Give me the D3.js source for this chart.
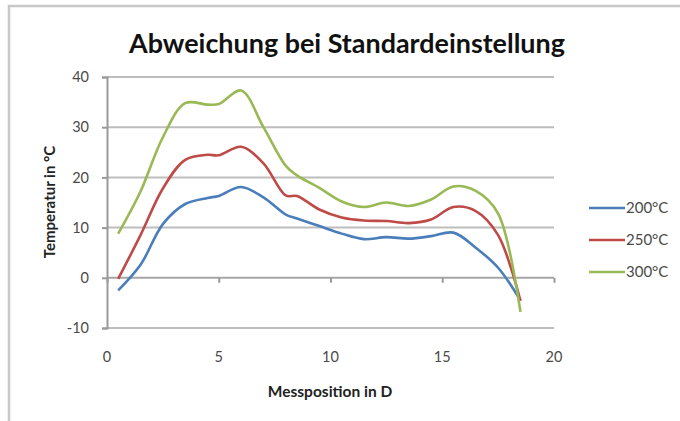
<!DOCTYPE html>
<html>
<head>
<meta charset="utf-8">
<script src="https://cdn.jsdelivr.net/npm/d3@7/dist/d3.min.js"></script>
<style>
  html, body { margin: 0; padding: 0; background: #fff; }
  svg { display: block; font-family: Lato, "Open Sans", sans-serif; }
</style>
</head>
<body>
<svg id="chart" width="680" height="421"></svg>
<script>
// Measurement positions (in diameters D) and temperature deviations per setting
const positions = [0.5, 1.5, 2.5, 3.5, 4.5, 5, 6, 7, 8, 8.5, 9.5, 10.5, 11.5, 12.5, 13.5, 14.5, 15.5, 16.5, 17.5, 18.5];
const t200 = [-2.5, 2.6, 10.7, 14.7, 15.9, 16.3, 18.1, 16.0, 12.6, 11.8, 10.3, 8.8, 7.7, 8.1, 7.8, 8.3, 9.0, 6.0, 2.0, -4.5];
const t250 = [-0.2, 8.5, 17.8, 23.5, 24.5, 24.4, 26.1, 22.8, 16.4, 16.3, 13.6, 12.0, 11.4, 11.3, 10.9, 11.6, 14.1, 13.3, 8.5, -4.6];
const t300 = [8.8, 17.2, 28.0, 34.8, 34.5, 34.6, 37.3, 30.0, 22.3, 20.4, 17.9, 15.2, 14.1, 15.0, 14.3, 15.6, 18.2, 17.3, 12.8, -6.8];

const seriesNames = ["200°C", "250°C", "300°C"];
const seriesColors = ["#4a7ebb", "#be4b48", "#98b954"];
const yTicks = [-10, 0, 10, 20, 30, 40];
const xTicks = [0, 5, 10, 15, 20];

const titleText = "Abweichung bei Standardeinstellung";
const xTitle = "Messposition in D";
const yTitle = "Temperatur in °C";

const svg = d3.select("#chart");

// Outer chart frame (top and left edges visible)
svg.append("path")
  .attr("d", "M9,421 L9,6 L680,6")
  .attr("fill", "none")
  .attr("stroke", "#c8c8c8")
  .attr("stroke-width", 2.5);

const plot = { left: 107, right: 554, top: 77, bottom: 328 };

const x = d3.scaleLinear().domain([0, 20]).range([plot.left, plot.right]);
const y = d3.scaleLinear().domain([-10, 40]).range([plot.bottom, plot.top]);

// Horizontal gridlines
svg.append("g")
  .selectAll("line")
  .data(yTicks)
  .join("line")
  .attr("x1", plot.left)
  .attr("x2", plot.right)
  .attr("y1", d => y(d))
  .attr("y2", d => y(d))
  .attr("stroke", d => d === 0 ? "#a6a6a6" : "#bdbdbd")
  .attr("stroke-width", 2);

// Vertical axis with outward ticks
const yAxis = svg.append("g")
  .attr("transform", `translate(${plot.left},0)`)
  .call(d3.axisLeft(y).tickValues(yTicks).tickSize(5).tickPadding(13).tickFormat(d => String(d)));
yAxis.select(".domain").attr("stroke", "#9a9a9a").attr("stroke-width", 2);
yAxis.selectAll(".tick line").attr("stroke", "#9a9a9a").attr("stroke-width", 2);
yAxis.selectAll("text")
  .attr("fill", "#4a4a4a")
  .attr("font-size", 14.5)
  .attr("font-family", "Lato, sans-serif");

// Horizontal axis crossing at zero, labels placed below the plot
const xAxis = svg.append("g")
  .attr("transform", `translate(0,${y(0)})`)
  .call(d3.axisBottom(x).tickValues(xTicks).tickSize(5).tickFormat(""));
xAxis.select(".domain").remove();
xAxis.selectAll(".tick line").attr("stroke", "#9a9a9a").attr("stroke-width", 2);

svg.append("g")
  .selectAll("text")
  .data(xTicks)
  .join("text")
  .attr("x", d => x(d))
  .attr("y", 362)
  .attr("text-anchor", "middle")
  .attr("fill", "#4a4a4a")
  .attr("font-size", 14.5)
  .text(d => d);

// Series lines (smoothed)
const seriesData = [t200, t250, t300];
const line = d3.line()
  .x(d => x(d[0]))
  .y(d => y(d[1]))
  .curve(d3.curveCatmullRom.alpha(0.5));

svg.append("g")
  .selectAll("path")
  .data(seriesData)
  .join("path")
  .attr("d", vals => line(positions.map((p, i) => [p, vals[i]])))
  .attr("fill", "none")
  .attr("stroke", (d, i) => seriesColors[i])
  .attr("stroke-width", 2.6)
  .attr("stroke-linejoin", "round");

// Title
const title = svg.append("text")
  .attr("x", 347)
  .attr("y", 53)
  .attr("text-anchor", "middle")
  .attr("font-weight", "bold")
  .attr("font-size", 24)
  .attr("fill", "#111")
  .text(titleText);
const tw = title.node().getComputedTextLength();
title.attr("font-size", 24 * 436 / tw);

// Axis titles
svg.append("text")
  .attr("x", 330)
  .attr("y", 397)
  .attr("text-anchor", "middle")
  .attr("font-weight", "bold")
  .attr("font-size", 15.5)
  .attr("fill", "#222")
  .text(xTitle);

svg.append("text")
  .attr("transform", "translate(55,202) rotate(-90)")
  .attr("text-anchor", "middle")
  .attr("font-weight", "bold")
  .attr("font-size", 15)
  .attr("fill", "#222")
  .text(yTitle);

// Legend
const legendY = d3.scalePoint().domain(seriesNames).range([208, 272]);
const legend = svg.append("g")
  .selectAll("g")
  .data(seriesNames)
  .join("g")
  .attr("transform", d => `translate(0,${legendY(d)})`);
legend.append("line")
  .attr("x1", 589).attr("x2", 625)
  .attr("stroke", (d, i) => seriesColors[i])
  .attr("stroke-width", 2.6);
legend.append("text")
  .attr("x", 626)
  .attr("dy", "0.35em")
  .attr("font-size", 15)
  .attr("fill", "#4a4a4a")
  .text(d => d);
</script>
</body>
</html>
